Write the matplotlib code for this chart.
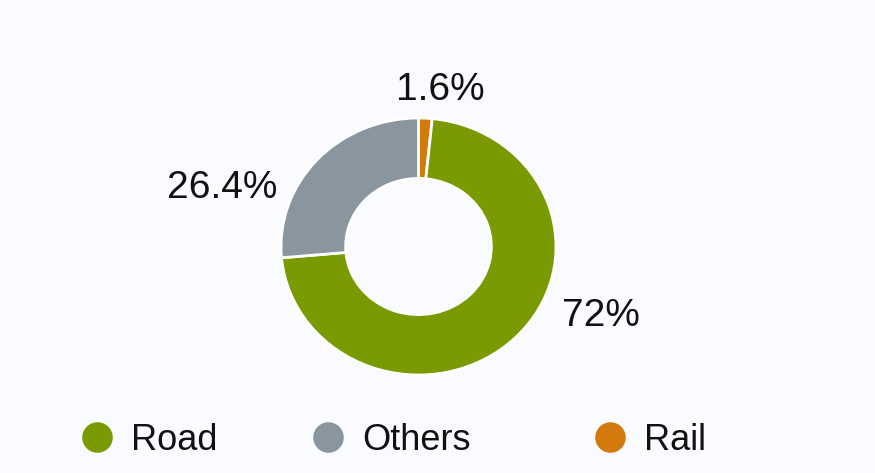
import matplotlib.pyplot as plt
from matplotlib.lines import Line2D

# transport mode shares (%), clockwise from 12 o'clock
modes = ['Rail', 'Road', 'Others']
shares = [1.6, 72, 26.4]
colors = ['#d27a0c', '#7a9a01', '#8a969f']
labels = ['1.6%', '72%', '26.4%']
legend_order = ['Road', 'Others', 'Rail']

W, H = 875, 473
fig = plt.figure(figsize=(W / 100, H / 100), dpi=100)
fig.patch.set_facecolor('#fafbfe')
plt.rcParams['font.family'] = ['Liberation Sans', 'DejaVu Sans']

# the ring is slightly wider than tall in the reference
cx, cy, rx, ry = 418.5, 246.5, 137.5, 128.5
ax = fig.add_axes([(cx - rx) / W, (H - cy - ry) / H, 2 * rx / W, 2 * ry / H])
ax.set_facecolor('none')

wedges, _ = ax.pie(shares, colors=colors, startangle=90, counterclock=False,
                   radius=1, wedgeprops=dict(width=0.47, edgecolor='white', linewidth=2))
ax.set_aspect('auto')
ax.set_xlim(-1, 1)
ax.set_ylim(-1, 1)
ax.axis('off')

# label positions (pixel centres)
label_px = {'1.6%': (440, 90), '72%': (601, 316), '26.4%': (222, 188)}
for lab in labels:
    px, py = label_px[lab]
    fig.text(px / W, 1 - py / H, lab, ha='center', va='center', fontsize=28, color='#111111')

# legend entries are not evenly spaced, so place each one on its own
legend_x = {'Road': 97, 'Others': 328, 'Rail': 610}  # circle centres, px
fs = 26
half_handle = fs * 100 / 72 / 2
for m in legend_order:
    h = Line2D([], [], marker='o', linestyle='none', markersize=22,
               markerfacecolor=colors[modes.index(m)], markeredgecolor='none')
    fig.legend([h], [m], loc='center left',
               bbox_to_anchor=((legend_x[m] - half_handle) / W, 1 - 440 / H),
               frameon=False, fontsize=fs, handlelength=1.0, handletextpad=0.45,
               borderpad=0, borderaxespad=0, labelcolor='#111111')

fig.savefig('out.png', dpi=100, facecolor=fig.get_facecolor())
